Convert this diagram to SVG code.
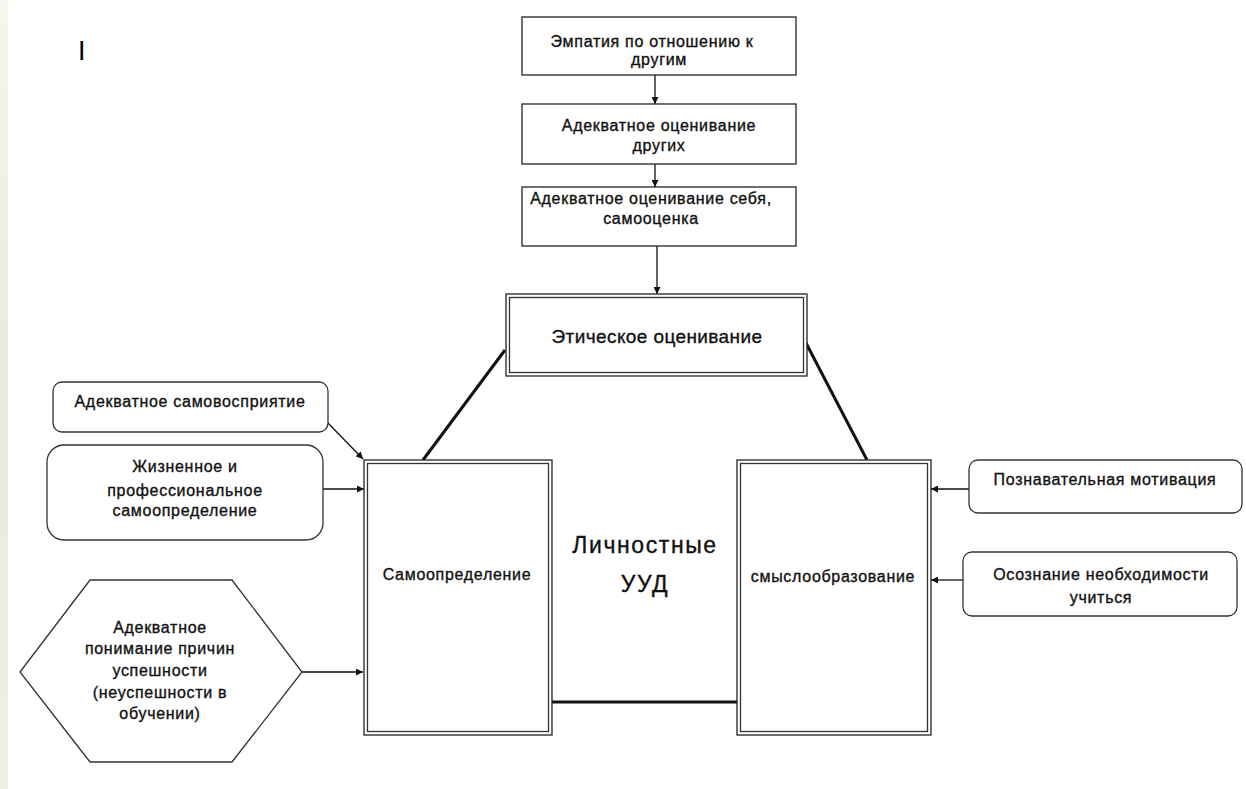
<svg xmlns="http://www.w3.org/2000/svg" width="1246" height="789" viewBox="0 0 1246 789">
<defs>
<linearGradient id="strip" x1="0" y1="0" x2="0" y2="1">
<stop offset="0" stop-color="#f6f5ef"/>
<stop offset="0.5" stop-color="#ebe8dc"/>
<stop offset="1" stop-color="#f1efe6"/>
</linearGradient>
<marker id="arr" viewBox="0 0 10 10" refX="10" refY="5" markerWidth="8" markerHeight="7" markerUnits="userSpaceOnUse" orient="auto">
<path d="M0,0 L10,5 L0,10 z" fill="#111"/>
</marker>
<style>
.t{font-family:"Liberation Sans",Arial,sans-serif;fill:#111;text-anchor:middle;stroke:#111;stroke-width:0.35px;}
.s16{font-size:16px;letter-spacing:0.7px;}
.box{fill:#fff;stroke:#222;stroke-width:1.3;}
.dbl{fill:none;stroke:#333;stroke-width:1.3;}
.rb{fill:#fff;stroke:#333;stroke-width:1.3;}
.ln{stroke:#111;stroke-width:1.3;fill:none;}
.thick{stroke:#111;stroke-width:3;fill:none;}
</style>
</defs>
<rect x="0" y="0" width="1246" height="789" fill="#fff"/>
<rect x="0" y="0" width="8" height="789" fill="url(#strip)"/>
<text x="78" y="60" style="font-family:'Liberation Sans',Arial,sans-serif;font-size:27px;fill:#000;">I</text>

<g id="connectors">
<line class="ln" x1="655" y1="75" x2="655" y2="104" marker-end="url(#arr)"/>
<line class="ln" x1="655" y1="164" x2="655" y2="187" marker-end="url(#arr)"/>
<line class="ln" x1="657" y1="246" x2="657" y2="294" marker-end="url(#arr)"/>
<line class="thick" x1="423" y1="460" x2="505" y2="350"/>
<line class="thick" x1="806" y1="343" x2="867" y2="460"/>
<line class="thick" x1="552" y1="702" x2="737" y2="702"/>
<line class="ln" x1="327" y1="422" x2="363" y2="459" marker-end="url(#arr)"/>
<line class="ln" x1="323" y1="489" x2="364" y2="489" marker-end="url(#arr)"/>
<line class="ln" x1="302" y1="672" x2="363" y2="672" marker-end="url(#arr)"/>
<line class="ln" x1="969" y1="489" x2="931" y2="489" marker-end="url(#arr)"/>
<line class="ln" x1="963" y1="580" x2="931" y2="580" marker-end="url(#arr)"/>
</g>

<g id="n-empathy">
<rect class="box" x="522" y="17" width="274" height="58"/>
<text class="t s16" x="652" y="47">Эмпатия по отношению к</text>
<text class="t s16" x="659" y="65">другим</text>
</g>
<g id="n-others">
<rect class="box" x="522" y="104" width="274" height="60"/>
<text class="t s16" x="659" y="131">Адекватное оценивание</text>
<text class="t s16" x="659" y="151">других</text>
</g>
<g id="n-self">
<rect class="box" x="522" y="187" width="274" height="59"/>
<text class="t s16" x="651" y="204">Адекватное оценивание себя,</text>
<text class="t s16" x="651" y="224">самооценка</text>
</g>
<g id="n-ethic">
<rect class="box" x="506" y="294" width="301" height="82"/>
<rect class="dbl" x="509.5" y="297.5" width="294" height="75"/>
<text class="t" x="657" y="343" style="font-size:19px;letter-spacing:0.4px;">Этическое оценивание</text>
</g>
<g id="n-selfdet">
<rect class="box" x="364" y="460" width="188" height="275"/>
<rect class="dbl" x="367.5" y="463.5" width="181" height="268"/>
<text class="t s16" x="457" y="580">Самоопределение</text>
</g>
<g id="n-meaning">
<rect class="box" x="737" y="460" width="194" height="275"/>
<rect class="dbl" x="740.5" y="463.5" width="187" height="268"/>
<text class="t s16" x="833" y="582">смыслообразование</text>
</g>
<g id="n-center">
<text class="t" x="645" y="553" style="font-size:23px;letter-spacing:1.6px;">Личностные</text>
<text class="t" x="645" y="592" style="font-size:23px;letter-spacing:1.6px;">УУД</text>
</g>
<g id="n-perception">
<rect class="rb" x="53" y="382" width="275" height="50" rx="9"/>
<text class="t s16" x="190" y="407">Адекватное самовосприятие</text>
</g>
<g id="n-life">
<rect class="rb" x="47" y="445" width="276" height="95" rx="17"/>
<text class="t s16" x="185" y="472">Жизненное и</text>
<text class="t s16" x="185" y="496">профессиональное</text>
<text class="t s16" x="185" y="516">самоопределение</text>
</g>
<g id="n-success">
<polygon class="rb" points="20,672 90,580 232,580 302,672 232,762 90,762"/>
<text class="t s16" x="160" y="633">Адекватное</text>
<text class="t s16" x="160" y="654">понимание причин</text>
<text class="t s16" x="160" y="676">успешности</text>
<text class="t s16" x="160" y="698">(неуспешности в</text>
<text class="t s16" x="160" y="719">обучении)</text>
</g>
<g id="n-cognitive">
<rect class="rb" x="969" y="460" width="273" height="53" rx="9"/>
<text class="t s16" x="1105" y="485">Познавательная мотивация</text>
</g>
<g id="n-necessity">
<rect class="rb" x="963" y="552" width="274" height="64" rx="9"/>
<text class="t s16" x="1101" y="580">Осознание необходимости</text>
<text class="t s16" x="1101" y="603">учиться</text>
</g>
</svg>
